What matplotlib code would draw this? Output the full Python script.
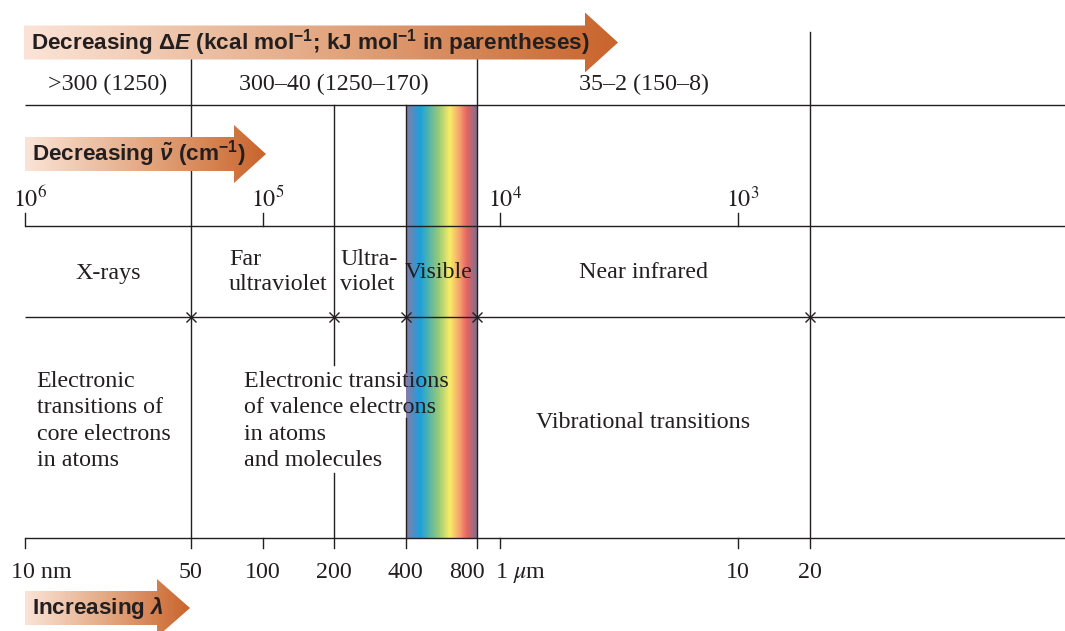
import numpy as np
import matplotlib
matplotlib.use("Agg")
import matplotlib.pyplot as plt
from matplotlib.colors import LinearSegmentedColormap
from matplotlib.patches import Polygon

plt.rcParams.update({"mathtext.fontset": "stix",
                     "mathtext.rm": "Liberation Sans:bold",
                     "mathtext.it": "Liberation Sans:italic:bold",
                     "mathtext.bf": "Liberation Sans:bold"})

# ---------------- values ----------------
WL_TICKS = [10, 50, 100, 200, 400, 800, 1000, 10000, 20000]          # wavelength, nm
WL_LABELS = ["10 nm", "50", "100", "200", "400", "800", r"1 $\mu$m", "10", "20"]
WN_TICKS = [1e6, 1e5, 1e4, 1e3]                                       # wavenumber, cm^-1
WN_LABELS = [r"$10^{6}$", r"$10^{5}$", r"$10^{4}$", r"$10^{3}$"]
BOUNDS = [50, 200, 400, 800, 20000]                                   # region borders (nm)
VISIBLE = (400, 800)
ENERGY_SPANS = [(10, 50), (50, 800), (800, 20000)]
ENERGY_LABELS = [">300 (1250)", "300–40 (1250–170)", "35–2 (150–8)"]
REGION_LABELS = ["X-rays", "Far\nultraviolet", "Ultra-\nviolet", "Visible", "Near infrared"]
TRANS_LABELS = ["Electronic\ntransitions of\ncore electrons\nin atoms",
                "Electronic transitions\nof valence electrons\nin atoms\nand molecules",
                "Vibrational transitions"]

INK = "#231f20"
SERIF = dict(family="Liberation Serif", fontsize=17.3, color=INK, math_fontfamily="stix")
SANS = dict(family="Liberation Sans", fontsize=16.2, fontweight="bold", color=INK,
            math_fontfamily="custom")
RAINBOW = LinearSegmentedColormap.from_list("vis", [
    (0.00, "#8a7aa6"), (0.20, "#1aa0dc"), (0.45, "#92c878"), (0.62, "#f8ec66"),
    (0.75, "#f6a46e"), (0.86, "#e66262"), (1.00, "#7c7090")])
ARROW = LinearSegmentedColormap.from_list("arr", ["#fbe4d7", "#e3a882", "#c9642c"])

W, H = 1065, 631
A, B = -213.1, 237.8            # pixel x = A + B*log10(nm)

fig = plt.figure(figsize=(W / 100, H / 100), dpi=100)
ax = fig.add_axes([0, 0, 1, 1])
ax.set_xscale("log")
xl = (10 ** (-A / B), 10 ** ((W - A) / B))
ax.axis("off")

def put(x, y, s, dx=0, ha="center", **kw):
    ax.annotate(s, (x, y), xytext=(dx * 0.72, 0), textcoords="offset points",
                ha=ha, va="center", **kw)

# horizontal rules
for y in [105, 226, 317, 538]:
    ax.plot([10, xl[1]], [y, y], color=INK, lw=1.0, solid_capstyle="butt")

# visible band
xs = np.geomspace(VISIBLE[0], VISIBLE[1], 301)
ax.pcolormesh(xs, [105, 538], np.linspace(0, 1, 300).reshape(1, -1), cmap=RAINBOW,
              shading="flat", zorder=1)

# vertical rules (wavelength, segments top->bottom)
for wl, segs in [(50, [(45, 548)]), (200, [(105, 365), (473, 548)]),
                 (400, [(105, 372), (418, 548)]), (800, [(45, 548)]),
                 (20000, [(32, 548)])]:
    for y0, y1 in segs:
        ax.plot([wl, wl], [y0, y1], color=INK, lw=1.0, zorder=2)
for wl in [10, 100, 1000, 10000]:
    ax.plot([wl, wl], [538, 548], color=INK, lw=1.0)
for wn in WN_TICKS:
    ax.plot([1e7 / wn] * 2, [213, 226], color=INK, lw=1.0)
ax.plot(BOUNDS, [317] * len(BOUNDS), "x", ms=6.5, mew=1.0, color=INK, zorder=3)

# wavelength tick labels
offs = {"10 nm": (-14, "left"), "800": (-10, "center"), r"1 $\mu$m": (-5, "left")}
for wl, lab in zip(WL_TICKS, WL_LABELS):
    dx, ha = offs.get(lab, (0, "center"))
    put(wl, 573, lab, dx, ha, **SERIF)
for wn, lab in zip(WN_TICKS, WN_LABELS):
    put(1e7 / wn, 199, lab, -12, "left", **SERIF)

# energy row
for (a, b), lab in zip(ENERGY_SPANS, ENERGY_LABELS):
    put(np.sqrt(a * b), 84, lab, **SERIF)

# region names
put(np.sqrt(10 * 50), 273, REGION_LABELS[0], **SERIF)
put(50, 272, REGION_LABELS[1], 38, "left", linespacing=1.28, **SERIF)
put(200, 272, REGION_LABELS[2], 6, "left", linespacing=1.28, **SERIF)
put(400, 273, REGION_LABELS[3], -1, "left", zorder=4, **SERIF)
put(np.sqrt(800 * 20000), 273, REGION_LABELS[4], **SERIF)

# transitions
put(10, 421, TRANS_LABELS[0], 12, "left", linespacing=1.32, **SERIF)
put(50, 421, TRANS_LABELS[1], 53, "left", linespacing=1.32, zorder=4, **SERIF)
put(np.sqrt(800 * 20000), 422, TRANS_LABELS[2], **SERIF)

ax.set_xlim(*xl)
ax.set_ylim(H, 0)

# gradient arrows on a pixel overlay
ov = fig.add_axes([0, 0, 1, 1], zorder=3)
ov.patch.set_alpha(0)
ov.axis("off")

def arrow(x0, xh, x1, yc, hb, hh, text):
    poly = Polygon([(x0, yc - hb), (xh, yc - hb), (xh, yc - hh), (x1, yc),
                    (xh, yc + hh), (xh, yc + hb), (x0, yc + hb)], closed=True,
                   fc="none", ec="none")
    ov.add_patch(poly)
    im = ov.imshow(np.linspace(0, 1, 256).reshape(1, -1), cmap=ARROW, aspect="auto",
                   extent=(x0, x1, yc + hh, yc - hh), interpolation="bilinear")
    im.set_clip_path(poly)
    ov.text(x0 + 7, yc, text, ha="left", va="center", **SANS)

arrow(24, 585, 618, 42.5, 17, 30,
      r"Decreasing $\Delta E$ (kcal mol$^{-1}$; kJ mol$^{-1}$ in parentheses)")
arrow(25, 234, 266, 154, 17, 29, r"Decreasing $\tilde{\nu}$ (cm$^{-1}$)")
arrow(25, 157, 190, 608, 17, 29, r"Increasing $\lambda$")
ov.set_xlim(0, W)
ov.set_ylim(H, 0)

fig.savefig("out.png", dpi=100)
